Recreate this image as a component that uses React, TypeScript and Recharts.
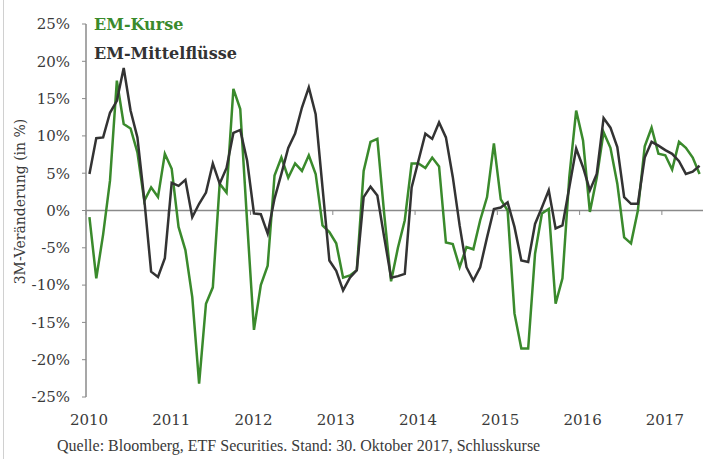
import React from "react";
import {
  LineChart,
  Line,
  XAxis,
  YAxis,
  ReferenceLine,
  Legend,
} from "recharts";

// monthly values, Jan 2010 .. Jun 2017 (3M change in %)
const emKurse = [
  -0.9, -9.1, -3.2, 4, 17.4, 11.6, 11.0, 7.8, 1.3, 3.1, 1.8, 7.6,
  5.6, -2.2, -5.3, -11.6, -23.2, -12.5, -10.3, 3.6, 2.4, 16.3, 13.6, -1.5,
  -16, -10, -7.4, 4.7, 7.1, 4.4, 6.3, 5.3, 7.4, 4.9, -2.0, -2.9,
  -4.4, -9.0, -8.7, -8.0, 5.3, 9.2, 9.6, -0.5, -9.5, -5.0, -1.3, 6.3,
  6.3, 5.7, 7.1, 5.9, -4.3, -4.5, -7.6, -4.9, -5.2, -1.3, 1.8, 9.0,
  1.5, 0, -13.8, -18.5, -18.5, -5.8, -0.4, 0.2, -12.5, -9.1, 4.5, 13.4,
  9.4, -0.2, 4.4, 10.5, 8.4, 3.6, -3.6, -4.4, 0, 8.6, 11.1, 7.6,
  7.4, 5.5, 9.2, 8.4, 7.1, 4.9,
];

const emFlows = [
  4.9, 9.7, 9.8, 13.1, 14.7, 19.1, 13.4, 9.8, 1.5, -8.2, -8.9, -6.4,
  3.7, 3.3, 4.1, -0.9, 0.9, 2.4, 6.3, 3.6, 5.7, 10.4, 10.8, 6.7,
  -0.4, -0.5, -3.1, 1.6, 4.9, 8.4, 10.3, 13.8, 16.5, 12.9, 3.1, -6.7,
  -8.1, -10.7, -9.0, -8.0, 1.8, 3.2, 2.0, -3.6, -9.0, -8.8, -8.5, 3.1,
  6.7, 10.3, 9.6, 11.8, 9.8, 4.5, -2, -7.6, -9.4, -7.6, -3.6, 0.2,
  0.4, 1.1, -2.2, -6.7, -6.9, -1.8, 0.4, 2.7, -2.4, -2.0, 3.1, 8.3,
  5.8, 2.7, 4.9, 12.4, 11.1, 8.5, 1.8, 0.9, 0.9, 7.1, 9.2, 8.7,
  8.1, 7.6, 6.6, 4.9, 5.2, 6.0,
];

const years = [2010, 2011, 2012, 2013, 2014, 2015, 2016, 2017];
const yTicks = [-25, -20, -15, -10, -5, 0, 5, 10, 15, 20, 25];

const GREEN = "#3a8a2c";
const DARK = "#333333";
const TEXT = "#3a3a3a";

// t = months since Jan 2010, point sits mid-month
const data = emKurse.map((v, i) => ({
  t: i + 0.5,
  kurse: v,
  flows: emFlows[i],
}));
const yearTicks = years.map((_, i) => i * 12);

const serif = "'DejaVu Serif', serif";

function LegendBox({ payload }: any) {
  return (
    <div style={{ fontFamily: serif, fontWeight: "bold", fontSize: 16, lineHeight: "29px" }}>
      {(payload || []).map((p: any) => (
        <div key={p.value} style={{ color: p.color }}>
          {p.value}
        </div>
      ))}
    </div>
  );
}

function AxisTitle(props: any) {
  const vb = props.viewBox || { y: 24, height: 373 };
  const cx = 20;
  const cy = vb.y + vb.height / 2 - 9;
  return (
    <text
      x={cx}
      y={cy}
      transform={`rotate(-90, ${cx}, ${cy})`}
      textAnchor="middle"
      dominantBaseline="central"
      fill={TEXT}
      fontSize={14}
      fontFamily={serif}
    >
      3M-Veränderung (in %)
    </text>
  );
}

export default function App() {
  return (
    <div
      style={{
        position: "absolute",
        left: 0,
        top: 0,
        width: 705,
        height: 459,
        background: "#fff",
      }}
    >
      <div style={{ position: "absolute", left: 3, top: 0, width: 1, height: 459, background: "#d0d0d0" }} />
      <LineChart
        width={705}
        height={459}
        data={data}
        margin={{ top: 24, right: 2, bottom: 22, left: 0 }}
      >
        <XAxis
          type="number"
          dataKey="t"
          domain={[0, 90]}
          ticks={yearTicks}
          tickFormatter={(v) => String(years[0] + v / 12)}
          axisLine={false}
          tickLine={false}
          tickMargin={11}
          height={40}
          tick={{ fill: TEXT, fontSize: 15, fontFamily: serif, dx: 3 }}
        />
        <YAxis
          type="number"
          domain={[-25, 25]}
          ticks={yTicks}
          tickFormatter={(v) => `${v}%`}
          width={86}
          axisLine={{ stroke: "#8a8a8a", strokeWidth: 1.5 }}
          tickLine={{ stroke: "#8a8a8a" }}
          tickSize={4}
          tickMargin={12}
          tick={{ fill: TEXT, fontSize: 15, fontFamily: serif }}
          label={{ content: AxisTitle }}
        />
        <ReferenceLine y={0} stroke="#8a8a8a" strokeWidth={1.5} />
        {yearTicks.map((t) => (
          <ReferenceLine
            key={t}
            segment={[
              { x: t, y: 0 },
              { x: t, y: -0.6 },
            ]}
            stroke="#8a8a8a"
          />
        ))}
        <Legend
          layout="vertical"
          align="center"
          verticalAlign="middle"
          wrapperStyle={{ top: 10, left: 94, width: "auto" }}
          content={<LegendBox />}
        />
        <Line
          type="linear"
          dataKey="kurse"
          name="EM-Kurse"
          stroke={GREEN}
          strokeWidth={2.5}
          dot={false}
          isAnimationActive={false}
        />
        <Line
          type="linear"
          dataKey="flows"
          name="EM-Mittelflüsse"
          stroke={DARK}
          strokeWidth={2.5}
          dot={false}
          isAnimationActive={false}
        />
      </LineChart>
      <div
        style={{
          position: "absolute",
          left: 57,
          top: 437,
          fontFamily: "'Liberation Serif', serif",
          fontSize: 16,
          color: TEXT,
          whiteSpace: "nowrap",
        }}
      >
        Quelle: Bloomberg, ETF Securities. Stand: 30. Oktober 2017, Schlusskurse
      </div>
    </div>
  );
}
